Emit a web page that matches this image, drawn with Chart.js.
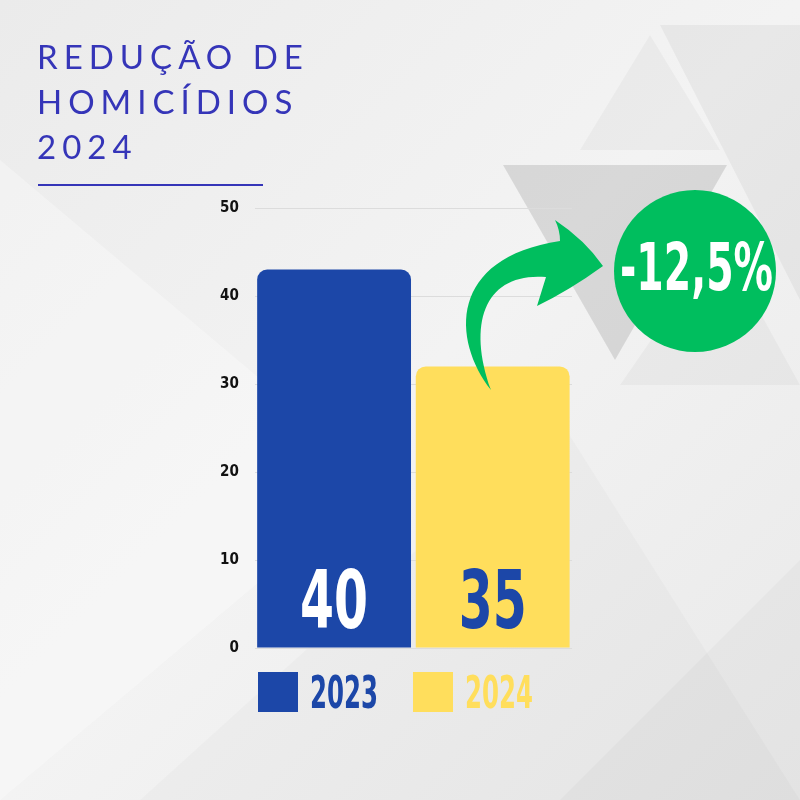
<!DOCTYPE html>
<html>
<head>
<meta charset="utf-8">
<script src="https://cdn.jsdelivr.net/npm/chart.js@4.4.1/dist/chart.umd.min.js"></script>
<style>
  html, body { margin: 0; padding: 0; background: #eee; }
  #wrap { width: 800px; height: 800px; }
</style>
</head>
<body>
<div id="wrap"><canvas id="chart" width="800" height="800"></canvas></div>
<script>
// dados do gráfico
const anos = ["2023", "2024"];
const alturas = [43, 32];          // altura das barras como desenhadas
const rotulos = ["40", "35"];      // números escritos nas barras
const corBarra = ["#1c47a8", "#ffde5c"];
const corRotulo = ["#ffffff", "#1c47a8"];
const tituloLinhas = ["REDUÇÃO DE", "HOMICÍDIOS", "2024"];
const variacao = "-12,5%";

const narrow = "'DejaVu Sans Condensed', 'Liberation Sans Narrow', sans-serif";

// texto condensado: comprime na horizontal até a largura pedida
function textoEstreito(ctx, txt, x, y, size, largura) {
  ctx.save();
  ctx.font = "bold " + size + "px " + narrow;
  const w = ctx.measureText(txt).width;
  ctx.translate(x, y);
  ctx.scale(largura / w, 1);
  ctx.textAlign = "left";
  ctx.textBaseline = "alphabetic";
  ctx.fillText(txt, 0, 0);
  ctx.restore();
}

// fundo com triângulos, título, seta e selo verde
const fundo = {
  id: "fundo",
  beforeDraw(chart) {
    const ctx = chart.ctx;
    const g = ctx.createLinearGradient(0, 0, 800, 800);
    g.addColorStop(0, "#ebebeb");
    g.addColorStop(0.5, "#f3f3f3");
    g.addColorStop(1, "#e9e9e9");
    ctx.save();
    ctx.fillStyle = g;
    ctx.fillRect(0, 0, 800, 800);

    const tri = (pts, cor) => {
      ctx.beginPath();
      ctx.moveTo(pts[0][0], pts[0][1]);
      for (let i = 1; i < pts.length; i++) ctx.lineTo(pts[i][0], pts[i][1]);
      ctx.closePath();
      ctx.fillStyle = cor;
      ctx.fill();
    };
    tri([[0, 160], [380, 480], [0, 800]], "rgba(255,255,255,0.3)");
    tri([[140, 800], [560, 420], [800, 800]], "rgba(0,0,0,0.02)");
    tri([[660, 25], [800, 25], [800, 300]], "rgba(0,0,0,0.045)");
    tri([[580, 150], [650, 35], [720, 150]], "rgba(0,0,0,0.03)");
    tri([[503, 165], [727, 165], [615, 360]], "rgba(0,0,0,0.11)");
    tri([[620, 385], [720, 240], [800, 385]], "rgba(0,0,0,0.03)");
    tri([[560, 800], [800, 560], [800, 800]], "rgba(0,0,0,0.025)");

    // título
    ctx.fillStyle = "#3535b8";
    ctx.font = "400 33px Lato, 'Open Sans', sans-serif";
    ctx.letterSpacing = "6px";
    ctx.textBaseline = "alphabetic";
    ctx.textAlign = "left";
    tituloLinhas.forEach((t, i) => ctx.fillText(t, 37, 69 + i * 45));
    ctx.letterSpacing = "0px";
    ctx.fillRect(38, 184, 225, 2);
    ctx.restore();
  },
  afterDraw(chart) {
    const ctx = chart.ctx;
    ctx.save();
    // seta verde
    ctx.fillStyle = "#00be5e";
    ctx.beginPath();
    ctx.moveTo(491, 390);
    ctx.bezierCurveTo(452, 340, 448, 258, 560, 241);
    ctx.quadraticCurveTo(560, 230, 555, 220);
    ctx.quadraticCurveTo(585, 240, 603, 266);
    ctx.quadraticCurveTo(570, 290, 537, 306);
    ctx.lineTo(546, 277);
    ctx.bezierCurveTo(487, 272, 466, 320, 491, 390);
    ctx.closePath();
    ctx.fill();

    // selo
    ctx.beginPath();
    ctx.arc(695, 271, 81, 0, Math.PI * 2);
    ctx.fill();
    ctx.fillStyle = "#ffffff";
    textoEstreito(ctx, variacao, 620, 290, 66, 153);

    // legenda
    anos.forEach((a, i) => {
      const x0 = i === 0 ? 258 : 413;
      ctx.fillStyle = corBarra[i];
      ctx.fillRect(x0, 672, 40, 40);
      ctx.fillStyle = i === 0 ? "#1c47a8" : "#ffde5c";
      textoEstreito(ctx, a, x0 + 52, 708, 45, 68);
    });
    ctx.restore();
  }
};

// números grandes dentro das barras
const numeros = {
  id: "numeros",
  afterDatasetsDraw(chart) {
    const ctx = chart.ctx;
    const meta = chart.getDatasetMeta(0);
    meta.data.forEach((bar, i) => {
      ctx.fillStyle = corRotulo[i];
      textoEstreito(ctx, rotulos[i], bar.x - 34, chart.chartArea.bottom - 20, 80, 68);
    });
  }
};

new Chart(document.getElementById("chart"), {
  type: "bar",
  data: {
    labels: anos,
    datasets: [{
      data: alturas,
      backgroundColor: corBarra,
      borderRadius: { topLeft: 10, topRight: 10, bottomLeft: 0, bottomRight: 0 },
      borderSkipped: "bottom",
      barPercentage: 0.97,
      categoryPercentage: 1
    }]
  },
  options: {
    responsive: false,
    animation: false,
    layout: { padding: { left: 204, right: 228, top: 208, bottom: 152 } },
    scales: {
      x: { display: false },
      y: {
        min: 0,
        max: 50,
        ticks: {
          stepSize: 10,
          color: "#111",
          padding: 16,
          font: { family: narrow, size: 15, weight: "bold" }
        },
        grid: { color: "#dcdcdc", drawTicks: false },
        border: { display: false }
      }
    },
    plugins: {
      tooltip: { enabled: false },
      legend: { display: false }
    }
  },
  plugins: [fundo, numeros]
});
</script>
</body>
</html>
